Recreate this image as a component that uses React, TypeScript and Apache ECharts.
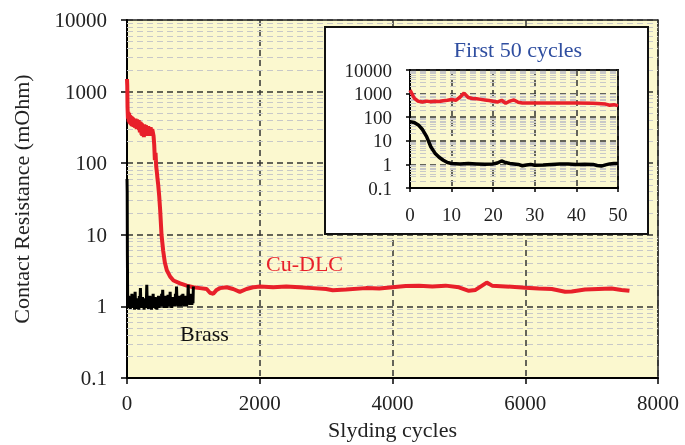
import React, { useEffect, useRef } from "react";
import * as echarts from "echarts";

// ---- data ----
const mainXMin = 0;
const mainXMax = 8000;
const mainXInterval = 2000;
const yMin = 0.1;
const yMax = 10000;
const insetXMax = 50;
const insetXInterval = 10;

const cuDlcMain: [number, number][] = [
  [0, 1500], [4, 1200], [8, 600], [14, 420], [20, 520], [26, 380], [32, 500], [38, 360], [44, 470],
  [50, 350], [56, 460], [62, 340], [68, 450], [74, 330], [80, 440], [86, 340], [92, 430], [98, 320],
  [104, 420], [110, 330], [116, 410], [122, 310], [128, 420], [134, 320], [140, 400], [146, 300],
  [152, 410], [158, 310], [164, 390], [170, 300], [176, 400], [182, 290], [188, 380], [194, 270],
  [200, 380], [206, 280], [212, 370], [218, 250], [224, 360], [230, 240], [236, 350], [242, 260],
  [248, 340], [254, 230], [260, 350], [266, 240], [272, 330], [278, 250], [284, 340], [290, 240],
  [296, 330], [302, 260], [308, 320], [314, 250], [320, 330], [326, 260], [332, 320], [338, 240],
  [344, 310], [350, 250], [356, 320], [362, 260], [368, 300], [374, 250], [380, 300], [390, 270],
  [400, 240], [410, 180], [420, 110], [430, 140], [440, 90], [450, 75], [460, 60], [470, 50],
  [485, 35], [500, 22], [520, 10], [545, 6], [570, 4.1], [600, 3.2], [650, 2.6], [700, 2.3],
  [800, 2.1], [900, 1.95], [1000, 1.85], [1100, 1.8], [1200, 1.75], [1250, 1.55], [1300, 1.5],
  [1350, 1.7], [1400, 1.8], [1500, 1.85], [1600, 1.75], [1700, 1.6], [1800, 1.75], [1900, 1.85],
  [2000, 1.9], [2200, 1.85], [2400, 1.9], [2600, 1.85], [2800, 1.8], [3000, 1.75], [3100, 1.68],
  [3300, 1.72], [3600, 1.8], [3800, 1.78], [4000, 1.85], [4200, 1.92], [4400, 1.95], [4600, 1.9],
  [4800, 1.95], [5000, 1.85], [5150, 1.65], [5250, 1.7], [5350, 1.95], [5420, 2.15], [5500, 1.95],
  [5700, 1.9], [6000, 1.82], [6200, 1.78], [6400, 1.75], [6600, 1.6], [6700, 1.62], [6900, 1.72],
  [7100, 1.75], [7300, 1.78], [7450, 1.7], [7570, 1.65],
];

const brassMain: [number, number][] = [
  [0, 60], [3, 40], [6, 5], [10, 1.2], [18, 0.95], [26, 1.4], [34, 1.0], [42, 1.3], [50, 0.92],
  [58, 1.25], [66, 1.0], [74, 1.5], [82, 0.95], [90, 1.2], [98, 1.0], [106, 1.35], [114, 0.9],
  [122, 1.6], [130, 1.0], [138, 1.2], [146, 0.92], [154, 1.3], [162, 1.0], [170, 1.25], [178, 0.9],
  [186, 1.4], [194, 1.0], [202, 1.8], [210, 1.0], [218, 1.2], [226, 0.95], [234, 1.35], [242, 1.0],
  [250, 1.2], [258, 0.9], [266, 1.3], [274, 1.0], [282, 1.25], [290, 0.95], [298, 2.0], [306, 1.0],
  [314, 1.3], [322, 0.92], [330, 1.2], [338, 1.0], [346, 1.4], [354, 0.95], [362, 1.2], [370, 0.9],
  [378, 1.3], [386, 1.0], [394, 1.5], [402, 0.95], [410, 1.2], [418, 1.0], [426, 1.35], [434, 0.92],
  [442, 1.3], [450, 0.9], [458, 1.25], [466, 1.0], [474, 1.4], [482, 0.95], [490, 1.2], [498, 1.0],
  [506, 1.3], [514, 1.0], [522, 1.5], [530, 1.05], [538, 1.7], [546, 1.0], [554, 1.3], [562, 0.95],
  [570, 1.25], [578, 1.0], [586, 1.4], [594, 0.95], [602, 1.2], [610, 1.0], [618, 1.45], [626, 1.0],
  [634, 1.3], [642, 1.0], [650, 1.6], [658, 1.0], [666, 1.3], [674, 0.95], [682, 1.2], [690, 1.0],
  [698, 1.35], [706, 1.0], [714, 1.25], [722, 1.0], [730, 1.5], [738, 1.05], [746, 1.9], [754, 1.1],
  [762, 1.3], [770, 1.0], [778, 1.25], [786, 1.0], [794, 1.4], [802, 1.0], [810, 1.3], [818, 1.0],
  [826, 1.45], [834, 1.05], [842, 1.5], [850, 1.1], [858, 1.3], [866, 1.0], [874, 1.4], [882, 1.05],
  [890, 1.3], [898, 1.0], [906, 1.4], [914, 1.1], [922, 2.0], [930, 1.1], [938, 1.4], [946, 1.05],
  [954, 1.5], [962, 1.1], [970, 1.35], [978, 1.05], [986, 1.5], [994, 1.1], [1000, 1.9],
];

const cuDlcInset: [number, number][] = [
  [0, 1400], [1, 650], [2, 470], [3, 440], [4, 480], [5, 450], [6, 470], [7, 460], [8, 500],
  [9, 520], [10, 560], [11, 520], [12, 700], [13, 1050], [14, 680], [15, 620], [16, 600], [17, 570],
  [18, 540], [19, 510], [20, 470], [21, 440], [22, 520], [23, 390], [24, 480], [25, 540], [26, 430],
  [27, 400], [30, 400], [33, 395], [36, 400], [40, 395], [44, 390], [46, 370], [47, 360], [48, 320],
  [49, 340], [50, 310],
];

const brassInset: [number, number][] = [
  [0, 65], [1, 60], [2, 47], [3, 30], [4, 15], [5, 5.6], [6, 3], [7, 2], [8, 1.5], [9, 1.2],
  [10, 1.1], [12, 1.05], [14, 1.08], [16, 1.05], [18, 1.02], [20, 1.05], [21, 1.15], [22, 1.4],
  [23, 1.2], [24, 1.1], [25, 1.05], [26, 1.0], [27, 0.88], [28, 0.95], [29, 1.0], [30, 0.92],
  [32, 0.95], [34, 1.0], [36, 1.05], [38, 1.05], [40, 1.0], [42, 1.02], [44, 1.0], [45, 0.9],
  [46, 0.85], [47, 0.95], [48, 1.05], [49, 1.1], [50, 1.1],
];

const yAxisTitle = "Contact Resistance (mOhm)";
const xAxisTitle = "Slyding cycles";
const insetTitle = "First 50 cycles";
const cuDlcLabel = "Cu-DLC";
const brassLabel = "Brass";

// minor log gridline positions (2..9 of each decade)
const minorGridValues: number[] = [];
for (let d = -1; d < 4; d++) {
  for (let k = 2; k <= 9; k++) minorGridValues.push(Number((k * Math.pow(10, d)).toPrecision(3)));
}

const FONT = '"Liberation Serif", "DejaVu Serif", serif';
const BG = "#fbf8cf";
const RED = "#e8202a";
const fmtNum = (v: number) => String(Number(Number(v).toPrecision(6)));

export default function App() {
  const ref = useRef<HTMLDivElement>(null);
  useEffect(() => {
    const chart = echarts.init(ref.current!, null, { renderer: "svg" });
    const majorSplit = { show: true, lineStyle: { color: "#333", type: [6, 4] as any, width: 1.5 } };
    const minorMark = (z: number, xi: number, yi: number) => ({
      type: "line",
      xAxisIndex: xi,
      yAxisIndex: yi,
      data: [],
      silent: true,
      markLine: {
        z,
        silent: true,
        symbol: ["none", "none"],
        label: { show: false },
        emphasis: { disabled: true },
        lineStyle: { color: "#c8c8c8", type: [6, 4], width: 1.2 },
        data: minorGridValues.map((v) => ({ yAxis: v })),
      },
    });
    chart.setOption({
      animation: false,
      grid: [
        { left: 127, right: 27, top: 20, bottom: 65, show: true, backgroundColor: BG, borderColor: "#222", borderWidth: 1.5, z: 0 },
        { left: 410, right: 67, top: 70, bottom: 257, show: true, backgroundColor: BG, borderColor: "#111", borderWidth: 2, z: 4 },
      ],
      xAxis: [
        {
          gridIndex: 0, type: "value", min: mainXMin, max: mainXMax, interval: mainXInterval, z: 0,
          axisLine: { lineStyle: { color: "#000", width: 2 } },
          axisTick: { show: true, length: 6, lineStyle: { color: "#000", width: 1.5 } },
          axisLabel: { color: "#222", fontSize: 21, fontFamily: FONT, margin: 14, formatter: fmtNum },
          splitLine: majorSplit,
          name: xAxisTitle, nameLocation: "middle", nameGap: 40,
          nameTextStyle: { color: "#222", fontSize: 22, fontFamily: FONT },
        },
        {
          gridIndex: 1, type: "value", min: 0, max: insetXMax, interval: insetXInterval, z: 5,
          axisLine: { lineStyle: { color: "#000", width: 2 } },
          axisTick: { show: true, length: 4, lineStyle: { color: "#000", width: 1.5 } },
          axisLabel: { color: "#222", fontSize: 19, fontFamily: FONT, margin: 17, formatter: fmtNum },
          splitLine: majorSplit,
        },
      ],
      yAxis: [
        {
          gridIndex: 0, type: "log", logBase: 10, min: yMin, max: yMax, z: 0,
          axisLine: { lineStyle: { color: "#000", width: 2 } },
          axisTick: { show: true, length: 6, lineStyle: { color: "#000", width: 1.5 } },
          axisLabel: { color: "#222", fontSize: 21, fontFamily: FONT, margin: 20, formatter: fmtNum },
          splitLine: majorSplit,
          name: yAxisTitle, nameLocation: "middle", nameGap: 95,
          nameTextStyle: { color: "#222", fontSize: 22, fontFamily: FONT },
        },
        {
          gridIndex: 1, type: "log", logBase: 10, min: yMin, max: yMax, z: 5,
          axisLine: { lineStyle: { color: "#000", width: 2 } },
          axisTick: { show: true, length: 4, lineStyle: { color: "#000", width: 1.5 } },
          axisLabel: { color: "#222", fontSize: 19, fontFamily: FONT, margin: 18, formatter: fmtNum },
          splitLine: majorSplit,
        },
      ],
      series: [
        minorMark(1, 0, 0),
        minorMark(6, 1, 1),
        {
          name: "Cu-DLC", type: "line", xAxisIndex: 0, yAxisIndex: 0, data: cuDlcMain, z: 8,
          showSymbol: false, lineStyle: { color: RED, width: 4 }, itemStyle: { color: RED },
        },
        {
          name: "Brass", type: "line", xAxisIndex: 0, yAxisIndex: 0, data: brassMain, z: 8,
          showSymbol: false, lineStyle: { color: "#000", width: 3 }, itemStyle: { color: "#000" },
        },
        {
          name: "Cu-DLC inset", type: "line", xAxisIndex: 1, yAxisIndex: 1, data: cuDlcInset, z: 9,
          showSymbol: false, lineStyle: { color: RED, width: 3.5 }, itemStyle: { color: RED },
        },
        {
          name: "Brass inset", type: "line", xAxisIndex: 1, yAxisIndex: 1, data: brassInset, z: 9,
          showSymbol: false, lineStyle: { color: "#000", width: 3.5 }, itemStyle: { color: "#000" },
        },
      ],
      graphic: {
        elements: [
          {
            type: "rect", z: 3, silent: true,
            shape: { x: 325, y: 27, width: 323, height: 207 },
            style: { fill: "#fff", stroke: "#111", lineWidth: 2 },
          },
          {
            type: "text", z: 10, x: 518, y: 49,
            style: { text: insetTitle, fill: "#2f4ea0", fontSize: 22, fontFamily: FONT, textAlign: "center", textVerticalAlign: "middle" },
          },
          {
            type: "text", z: 10, x: 266, y: 263,
            style: { text: cuDlcLabel, fill: RED, fontSize: 22, fontFamily: FONT, textAlign: "left", textVerticalAlign: "middle" },
          },
          {
            type: "text", z: 10, x: 180, y: 333,
            style: { text: brassLabel, fill: "#111", fontSize: 22, fontFamily: FONT, textAlign: "left", textVerticalAlign: "middle" },
          },
        ],
      },
    });
    return () => chart.dispose();
  }, []);
  return <div ref={ref} style={{ position: "fixed", left: 0, top: 0, width: 685, height: 445 }} />;
}
